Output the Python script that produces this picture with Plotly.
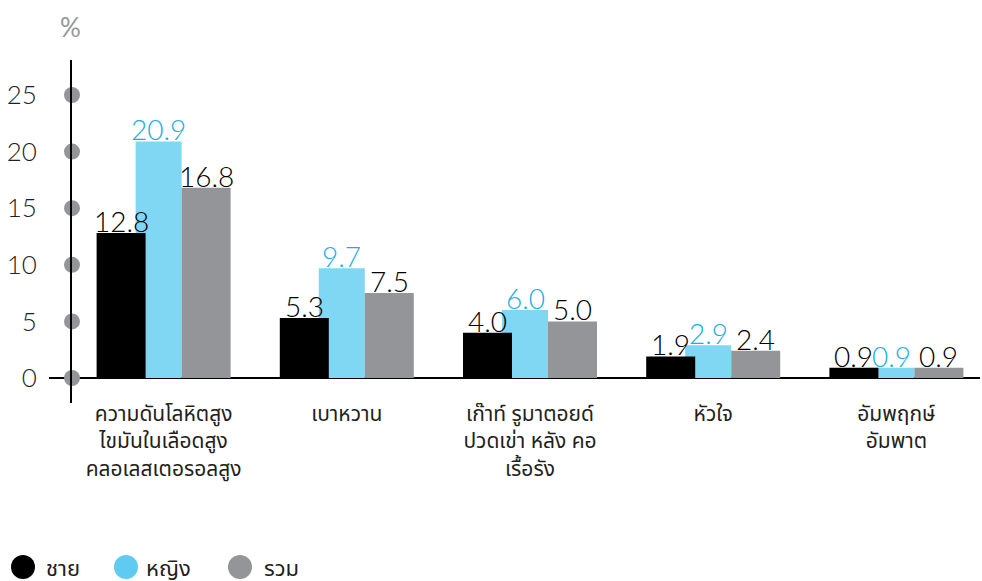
import plotly.graph_objects as go

# Health conditions (Thai labels) and prevalence by sex, in percent
categories = [
    "ความดันโลหิตสูง<br>ไขมันในเลือดสูง<br>คลอเลสเตอรอลสูง",
    "เบาหวาน",
    "เก๊าท์ รูมาตอยด์<br>ปวดเข่า หลัง คอ<br>เรื้อรัง",
    "หัวใจ",
    "อัมพฤกษ์<br>อัมพาต",
]
male = [12.8, 5.3, 4.0, 1.9, 0.9]
female = [20.9, 9.7, 6.0, 2.9, 0.9]
total = [16.8, 7.5, 5.0, 2.4, 0.9]

series_names = ["ชาย", "หญิง", "รวม"]
y_ticks = [0, 5, 10, 15, 20, 25]

FONT = "Lato, 'Noto Sans Thai', 'Noto Sans', sans-serif"
BLACK = "#000000"
CYAN = "#80D7F3"
CYAN_TEXT = "#1BAEE6"
GRAY = "#939598"
DARK = "#231F20"

W, H = 982, 581
ML, MR, MT, MB = 72, 2, 60, 178
PLOT_W = W - ML - MR
PLOT_H = H - MT - MB
PX_PER_CAT = 183.2  # horizontal spacing between category centres


def px(d):
    """Pixel distance -> category-axis units."""
    return d / PX_PER_CAT


# (values, colour, label colour, left offset px, width px); drawing order puts cyan beneath black
bar_specs = {
    "ชาย": (male, BLACK, BLACK, -67, 49),
    "หญิง": (female, CYAN, CYAN_TEXT, -28, 46),
    "รวม": (total, GRAY, BLACK, 18, 49),
}
draw_order = ["หญิง", "ชาย", "รวม"]

fig = go.Figure()
for name in draw_order:
    vals, col, _, off, wid = bar_specs[name]
    fig.add_trace(go.Bar(
        x=categories, y=vals, name=name,
        marker=dict(color=col, line=dict(width=0)),
        offset=px(off), width=px(wid),
        showlegend=False, hoverinfo="skip",
    ))

# Round markers sitting on the value axis at each tick
fig.add_trace(go.Scatter(
    x=[0] * len(y_ticks), y=y_ticks, xaxis="x2", mode="markers",
    marker=dict(size=16, color=GRAY), cliponaxis=False,
    showlegend=False, hoverinfo="skip",
))

annotations = []
# Value labels above each bar
for name in series_names:
    vals, _, tcol, off, wid = bar_specs[name]
    for i, v in enumerate(vals):
        annotations.append(dict(
            x=i + px(off + wid / 2), y=v, xref="x", yref="y",
            text=f"{v:.1f}", showarrow=False, yanchor="bottom", yshift=-7,
            font=dict(family=FONT, size=28, color=tcol, weight=300),
        ))

# Unit label above the axis
annotations.append(dict(
    x=-2 / PLOT_W, y=(MT + PLOT_H - 27) / PLOT_H, xref="paper", yref="paper",
    text="%", showarrow=False, xanchor="center", yanchor="middle",
    font=dict(family=FONT, size=26, color=GRAY),
))

shapes = [
    # Baseline at zero, extending a little left of the value axis
    dict(type="line", xref="paper", yref="y", x0=-23 / PLOT_W, x1=1, y0=0, y1=0,
         line=dict(color=BLACK, width=2), layer="below"),
]

# Legend: large dots followed by labels
legend_colors = [BLACK, "#5FCBF0", GRAY]
legend_dot_px = [23, 126, 240]
legend_text_px = [44, 144, 262]
legend_y = (MT + PLOT_H - 567) / PLOT_H
for name, col, dx, tx in zip(series_names, legend_colors, legend_dot_px, legend_text_px):
    shapes.append(dict(
        type="circle", xref="paper", yref="paper",
        xsizemode="pixel", ysizemode="pixel",
        xanchor=(dx - ML) / PLOT_W, yanchor=legend_y,
        x0=-12, x1=12, y0=-12, y1=12,
        fillcolor=col, line=dict(width=0),
    ))
    annotations.append(dict(
        x=(tx - ML) / PLOT_W, y=legend_y, xref="paper", yref="paper",
        text=name, showarrow=False, xanchor="left", yanchor="middle",
        font=dict(family=FONT, size=22, color=DARK),
    ))

y_per_px = 25 / (378 - 95)
fig.update_layout(
    width=W, height=H,
    margin=dict(l=ML, r=MR, t=MT, b=MB),
    paper_bgcolor="white", plot_bgcolor="white",
    barmode="overlay",
    showlegend=False,
    xaxis=dict(
        type="category", range=[-0.5, -0.5 + PLOT_W / PX_PER_CAT],
        showline=False, showgrid=False, zeroline=False, ticks="",
        tickfont=dict(family=FONT, size=21, color=DARK),
        ticklabelstandoff=-4,
        fixedrange=True,
    ),
    xaxis2=dict(overlaying="x", range=[0, 1], visible=False, fixedrange=True),
    yaxis=dict(
        range=[-(403 - 378) * y_per_px, (378 - 60) * y_per_px],
        tickvals=y_ticks, ticktext=[str(t) for t in y_ticks],
        showline=True, linecolor=BLACK, linewidth=2,
        showgrid=False, zeroline=False, ticks="",
        ticklabelstandoff=28,
        tickfont=dict(family=FONT, size=26, color=DARK, weight=300),
        fixedrange=True,
    ),
    shapes=shapes,
    annotations=annotations,
)

fig.write_html("out.html")
